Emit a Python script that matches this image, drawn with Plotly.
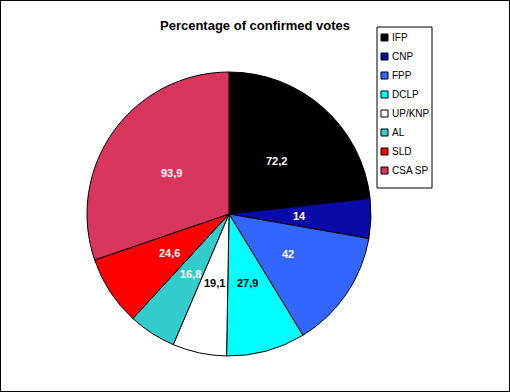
import math
import plotly.graph_objects as go

parties = ["IFP", "CNP", "FPP", "DCLP", "UP/KNP", "AL", "SLD", "CSA SP"]
votes = [72.2, 14, 42, 27.9, 19.1, 16.8, 24.6, 93.9]
value_labels = ["72,2", "14", "42", "27,9", "19,1", "16,8", "24,6", "93,9"]
colors = ["#000000", "#0a0aa8", "#3366ff", "#00ffff", "#ffffff", "#33cccc", "#ff0000", "#d8365c"]
text_colors = ["white", "white", "white", "black", "black", "white", "white", "white"]

W, H = 510, 392
FONT = "Liberation Sans, Arial, sans-serif"

# pie geometry (pixels)
cx, cy, R = 229, 214, 142

fig = go.Figure(go.Pie(
    labels=parties,
    values=votes,
    textinfo="none",
    sort=False,
    direction="clockwise",
    rotation=0,
    marker=dict(colors=colors, line=dict(color="black", width=1)),
    domain=dict(x=[(cx - R) / W, (cx + R) / W], y=[(H - cy - R) / H, (H - cy + R) / H]),
    hoverinfo="label+value",
    showlegend=False,
))

annotations = []
# value labels at half radius, mid-angle of each slice
total = sum(votes)
cum = 0.0
for v, lab, tc in zip(votes, value_labels, text_colors):
    mid = (cum + v / 2) / total * 2 * math.pi
    cum += v
    px = cx + 0.5 * R * math.sin(mid)
    py = cy - 0.5 * R * math.cos(mid)
    annotations.append(dict(x=px / W, y=1 - py / H, xref="paper", yref="paper",
                            text="<b>%s</b>" % lab, showarrow=False,
                            xanchor="center", yanchor="middle",
                            font=dict(family=FONT, size=11, color=tc)))

# custom legend
shapes = [dict(type="rect", xref="paper", yref="paper", x0=0, y0=0, x1=1, y1=1,
               line=dict(color="black", width=2)),
          dict(type="rect", xref="paper", yref="paper",
               x0=377 / W, x1=432 / W, y0=1 - 188 / H, y1=1 - 27 / H,
               line=dict(color="black", width=1), fillcolor="white")]
lx, ly0, step, s = 381, 37.5, 19, 7
for i, (name, col) in enumerate(zip(parties, colors)):
    yc = ly0 + step * i
    shapes.append(dict(type="rect", xref="paper", yref="paper",
                       x0=lx / W, x1=(lx + s) / W,
                       y0=1 - (yc + s / 2) / H, y1=1 - (yc - s / 2) / H,
                       line=dict(color="black", width=1), fillcolor=col))
    annotations.append(dict(x=(lx + s + 2) / W, y=1 - yc / H, xref="paper", yref="paper",
                            text=name, showarrow=False, xanchor="left", yanchor="middle",
                            font=dict(family=FONT, size=10, color="black")))

fig.update_layout(
    width=W, height=H,
    margin=dict(l=0, r=0, t=0, b=0),
    paper_bgcolor="white",
    plot_bgcolor="white",
    title=dict(text="<b>Percentage of confirmed votes</b>", x=0.5, xanchor="center",
               y=1 - 25 / H, yanchor="middle",
               font=dict(family=FONT, size=13, color="black")),
    shapes=shapes,
    annotations=annotations,
)

fig.write_html("out.html", config={"displayModeBar": False},
               post_script="document.body.style.margin='0';")
